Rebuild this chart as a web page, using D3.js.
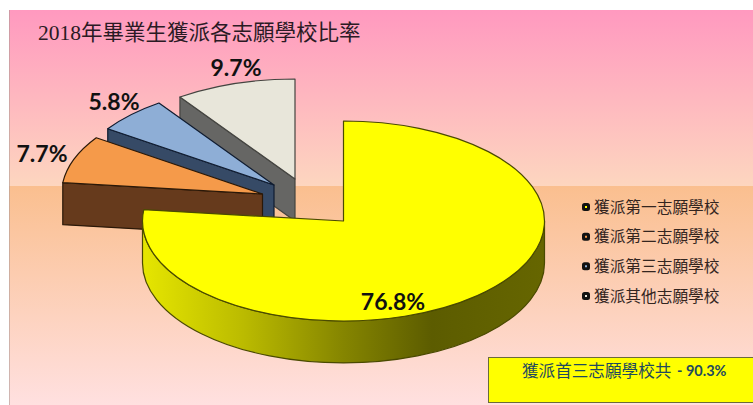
<!DOCTYPE html>
<html>
<head>
<meta charset="utf-8">
<script src="https://cdn.jsdelivr.net/npm/d3@7"></script>
<style>
	html, body { margin: 0; padding: 0; background: #fff; overflow: hidden; }
	svg { display: block; }
</style>
</head>
<body>
<script>
//chart values
var categories = ["獲派第一志願學校", "獲派第二志願學校", "獲派第三志願學校", "獲派其他志願學校"];
var values = [76.8, 7.7, 5.8, 9.7];
var valueLabels = ["76.8%", "7.7%", "5.8%", "9.7%"];
var titleText = "2018年畢業生獲派各志願學校比率";
var noteCjk = "獲派首三志願學校共";
var noteValue = "- 90.3%";

(function () {
	var width = 753, height = 405;
	var serif = "'Liberation Serif','Noto Sans CJK TC',serif";

	//slice look, same order as the values
	var topColors = ["#ffff00", "#f59a4a", "#8eaed6", "#e8e6da"];
	var sideColors = ["#666600", "#663a1c", "#364a66", "#666664"];
	var strokeColors = ["#4a4a00", "#2a1808", "#101c30", "#444440"];

	//pie ellipse and where each exploded slice has its tip
	var rx = 201, ry = 100, depth = 42;
	var centers = [[343.5, 221], [262.5, 194], [274, 185], [295, 179]];
	//where each label sits
	var labelPos = [[393, 310], [42, 162], [114, 110], [236, 76]];
	var legendY = d3.scalePoint().domain(categories).range([207, 296]);

	var svg = d3.select("body").append("svg")
		.attr("width", width)
		.attr("height", height);

	var defs = svg.append("defs");

	function vertical(id, stops) {
		var g = defs.append("linearGradient").attr("id", id)
			.attr("x1", 0).attr("y1", 0).attr("x2", 0).attr("y2", 1);
		stops.forEach(function (s) {
			g.append("stop").attr("offset", s[0]).attr("stop-color", s[1]);
		});
	}
	vertical("bgTop", [[0, "#ff99bf"], [1, "#fdd6bf"]]);
	vertical("bgBottom", [[0, "#fabf8f"], [1, "#ffe0e0"]]);

	//shaded wall of the big slice, bright on the left and dark on the right
	var wall = defs.append("linearGradient").attr("id", "wallYellow")
		.attr("gradientUnits", "userSpaceOnUse")
		.attr("x1", centers[0][0] - rx).attr("y1", 0)
		.attr("x2", centers[0][0] + rx).attr("y2", 0);
	wall.append("stop").attr("offset", 0).attr("stop-color", "#e6e600");
	wall.append("stop").attr("offset", 0.25).attr("stop-color", "#bbbb00");
	wall.append("stop").attr("offset", 0.5).attr("stop-color", "#858500");
	wall.append("stop").attr("offset", 0.72).attr("stop-color", "#5c5c00");
	wall.append("stop").attr("offset", 1).attr("stop-color", "#666600");

	//background, two bands
	svg.append("rect").attr("x", 9).attr("y", 10)
		.attr("width", width - 9).attr("height", 176).attr("fill", "url(#bgTop)");
	svg.append("rect").attr("x", 9).attr("y", 186)
		.attr("width", width - 9).attr("height", height - 186).attr("fill", "url(#bgBottom)");
	svg.append("line").attr("x1", 9.5).attr("x2", 9.5).attr("y1", 10).attr("y2", height)
		.attr("stroke", "#b09a94").attr("stroke-opacity", 0.6);

	var slices = d3.pie().sort(null).value(function (d) { return d; })(values);

	function pt(c, a, dy) {
		return [c[0] + rx * Math.sin(a), c[1] - ry * Math.cos(a) + (dy || 0)];
	}

	function ellArc(to, large, sweep) {
		return "A" + rx + "," + ry + " 0 " + (large ? 1 : 0) + "," + sweep + " " + to[0] + "," + to[1];
	}

	function topPath(d, i) {
		var c = centers[i], a = pt(c, d.startAngle), b = pt(c, d.endAngle);
		return "M" + c[0] + "," + c[1] + "L" + a[0] + "," + a[1] +
			ellArc(b, d.endAngle - d.startAngle > Math.PI, 1) + "Z";
	}

	//round outer wall, only the part facing the viewer (east to west through south)
	function outerWall(d, i) {
		var c = centers[i];
		var a0 = Math.max(d.startAngle, Math.PI / 2), a1 = Math.min(d.endAngle, Math.PI * 1.5);
		if (a1 <= a0) return null;
		var p0 = pt(c, a0), p1 = pt(c, a1), q1 = pt(c, a1, depth), q0 = pt(c, a0, depth);
		return "M" + p0[0] + "," + p0[1] + ellArc(p1, false, 1) +
			"L" + q1[0] + "," + q1[1] + ellArc(q0, false, 0) + "Z";
	}

	//flat cut wall from the rim to the tip, for the start angle of a slice
	function cutWall(d, i) {
		var c = centers[i], a = pt(c, d.startAngle);
		return "M" + a[0] + "," + a[1] + "L" + c[0] + "," + c[1] +
			"L" + c[0] + "," + (c[1] + depth) + "L" + a[0] + "," + (a[1] + depth) + "Z";
	}

	//draw back slices first so the big one covers them
	var order = [3, 2, 1, 0];
	var pie = svg.append("g").attr("class", "pie");

	order.forEach(function (i) {
		var d = slices[i];
		var g = pie.append("g").attr("class", "slice").attr("stroke", strokeColors[i])
			.attr("stroke-width", 1.2).attr("stroke-linejoin", "round");
		if (i === 0) {
			g.append("path").attr("d", outerWall(d, i)).attr("fill", "url(#wallYellow)");
		} else {
			g.append("path").attr("d", cutWall(d, i)).attr("fill", sideColors[i]);
		}
		g.append("path").attr("d", topPath(d, i)).attr("fill", topColors[i]);
	});

	//value labels
	svg.selectAll(".value").data(valueLabels).enter().append("text")
		.attr("class", "value")
		.attr("x", function (d, i) { return labelPos[i][0]; })
		.attr("y", function (d, i) { return labelPos[i][1]; })
		.attr("text-anchor", "middle")
		.attr("font-family", "Lato,'Open Sans',sans-serif")
		.attr("font-weight", 700)
		.attr("font-size", 23)
		.attr("fill", "#111")
		.text(function (d) { return d; });

	//title
	svg.append("text").attr("x", 38).attr("y", 40)
		.attr("font-family", serif).attr("font-size", 21.5).attr("fill", "#2a1a24")
		.text(titleText);

	//legend
	var legend = svg.selectAll(".legend").data(categories).enter().append("g")
		.attr("class", "legend")
		.attr("transform", function (d) { return "translate(0," + legendY(d) + ")"; });
	legend.append("rect").attr("x", 583.5).attr("y", -2.5).attr("width", 5).attr("height", 5)
		.attr("rx", 1)
		.attr("fill", function (d, i) { return topColors[i]; })
		.attr("stroke", "#111").attr("stroke-width", 3);
	legend.append("text").attr("x", 594).attr("y", 5.5)
		.attr("font-family", serif).attr("font-size", 15.7).attr("fill", "#33251f")
		.text(function (d) { return d; });

	//note box
	svg.append("rect").attr("x", 488.5).attr("y", 357.5)
		.attr("width", 265).attr("height", 45)
		.attr("fill", "#ffff00").attr("stroke", "#6b6b3a").attr("stroke-width", 1);
	svg.append("text").attr("x", 522).attr("y", 377)
		.attr("font-family", serif).attr("font-size", 16.6).attr("fill", "#1f4a5e")
		.text(noteCjk);
	svg.append("text").attr("x", 677).attr("y", 376)
		.attr("font-family", "Lato,'Open Sans',sans-serif").attr("font-weight", 700)
		.attr("font-size", 14.5).attr("fill", "#1f4a5e")
		.text(noteValue);
})();
</script>
</body>
</html>
